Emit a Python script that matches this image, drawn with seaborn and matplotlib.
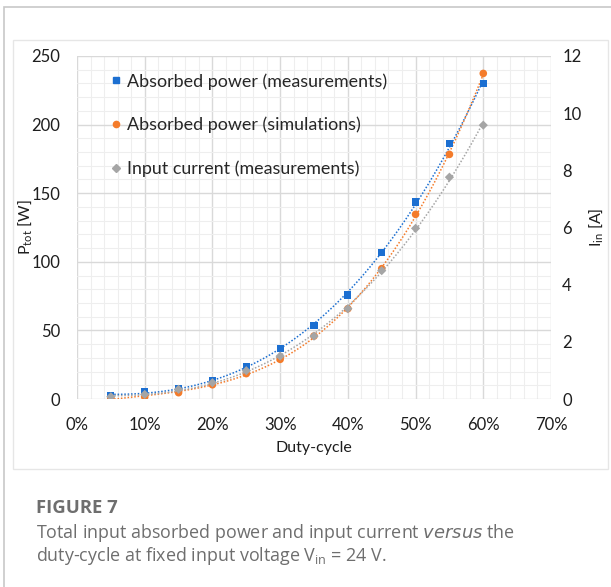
import numpy as np
import pandas as pd
import matplotlib
matplotlib.use("Agg")
import matplotlib.pyplot as plt
from matplotlib.patches import Rectangle
from matplotlib.lines import Line2D
import seaborn as sns

duty = [0.05, 0.10, 0.15, 0.20, 0.25, 0.30, 0.35, 0.40, 0.45, 0.50, 0.55, 0.60]
power_meas = [2.2, 5.6, 7.5, 13.8, 24.0, 36.7, 53.4, 75.8, 107.1, 143.6, 185.9, 230.1]
power_sim = [0.5, 1.5, 4.6, 10.4, 18.5, 28.9, 45.9, 65.8, 95.0, 134.6, 178.3, 237.3]
current_meas = [0.08, 0.16, 0.34, 0.57, 0.99, 1.50, 2.20, 3.16, 4.49, 5.97, 7.76, 9.58]

labels = ["Absorbed power (measurements)", "Absorbed power (simulations)", "Input current (measurements)"]
c_blue = "#1c6fd1"
c_orange = "#f47b2a"
c_gray = "#a5a5a5"
txt = "#1e1e1e"

sns.set_theme(style="white")
plt.rcParams['font.family'] = ['Lato', 'DejaVu Sans']

W, H = 611, 587
fig = plt.figure(figsize=(W/100, H/100), dpi=100)
# frames
fig.patches.append(Rectangle((4/W, -0.1), 1.2, 1.1 - 7/H, transform=fig.transFigure,
                             fill=False, edgecolor="#c8c8c8", lw=1.2))
fig.patches.append(Rectangle((13/W, 1-469/H), (608-13)/W, (469-40)/H, transform=fig.transFigure,
                             fill=False, edgecolor="#e6e6e6", lw=1.0))

ax = fig.add_axes([77/W, 1-399/H, (551-77)/W, (399-56)/H])
ax2 = ax.twinx()

df = pd.DataFrame({"duty": duty, "pm": power_meas, "ps": power_sim, "im": current_meas})
xs = np.linspace(0.05, 0.60, 200)

for col, color, axis in [("pm", c_blue, ax), ("ps", c_orange, ax), ("im", c_gray, ax2)]:
    coef = np.polyfit(df["duty"], df[col], 3)
    sns.lineplot(x=xs, y=np.polyval(coef, xs), ax=axis, color=color, lw=1.1,
                 linestyle=(0, (1, 1.2)), zorder=3)

sns.scatterplot(data=df, x="duty", y="pm", ax=ax, marker="s", s=26, color=c_blue,
                edgecolor="none", zorder=4)
sns.scatterplot(data=df, x="duty", y="ps", ax=ax, marker="o", s=30, color=c_orange,
                edgecolor="none", zorder=4)
sns.scatterplot(data=df, x="duty", y="im", ax=ax2, marker="D", s=22, color=c_gray,
                edgecolor="none", zorder=4)

ax.set_xlim(0, 0.70)
ax.set_ylim(0, 250)
ax2.set_ylim(0, 12)
ax.set_xticks(np.arange(0, 0.71, 0.1))
ax.set_xticklabels([f"{int(round(v*100))}%" for v in np.arange(0, 0.71, 0.1)])
ax.set_xticks(np.arange(0, 0.701, 0.02), minor=True)
ax.set_yticks(np.arange(0, 251, 50))
ax.set_yticks(np.arange(0, 251, 10), minor=True)
ax2.set_yticks(np.arange(0, 13, 2))

ax.grid(which="major", color="#d9d9d9", lw=1.0)
ax.grid(which="minor", color="#eeeeee", lw=0.8)
ax.set_axisbelow(True)
for a in (ax, ax2):
    for s in a.spines.values():
        s.set_visible(False)
    a.tick_params(which="both", length=0, labelsize=12, colors=txt)
ax.tick_params(axis="x", pad=13)
ax.tick_params(axis="y", pad=12)
ax2.tick_params(axis="y", pad=8)

ax.set_xlabel("Duty-cycle", fontsize=11.5, color=txt, labelpad=6)
ax.set_ylabel(r"P$_{\mathregular{tot}}$ [W]", fontsize=11.5, color=txt)
ax2.set_ylabel(r"I$_{\mathregular{in}}$ [A]", fontsize=11.5, color=txt)
ax.yaxis.set_label_coords((35 - 77) / 474, 0.5)
ax2.yaxis.set_label_coords((588 - 77) / 474, 0.5)

handles = [Line2D([], [], ls="none", marker="s", color=c_blue, markersize=4.2),
           Line2D([], [], ls="none", marker="o", color=c_orange, markersize=4.5),
           Line2D([], [], ls="none", marker="D", color=c_gray, markersize=3.8)]
ax.legend(handles, labels, loc="upper left", bbox_to_anchor=(0.0366, 0.987), frameon=False,
          fontsize=12.9, labelspacing=1.52, handletextpad=0.12, handlelength=1.0,
          borderpad=0.2)

cap = "#6e6e6e"
cfam = ["Open Sans", "DejaVu Sans"]
fig.text(36/W, 1-513/H, "FIGURE 7", fontsize=13.3, fontweight="bold", color=cap,
         family=cfam, va="baseline")
fig.text(36/W, 1-538/H, "Total input absorbed power and input current $\\it{versus}$ the",
         fontsize=12.9, color=cap, family=cfam, va="baseline")
fig.text(36/W, 1-561/H, r"duty-cycle at fixed input voltage V$_{\mathregular{in}}$ = 24 V.",
         fontsize=12.9, color=cap, family=cfam, va="baseline")

fig.savefig("out.png", dpi=100)
